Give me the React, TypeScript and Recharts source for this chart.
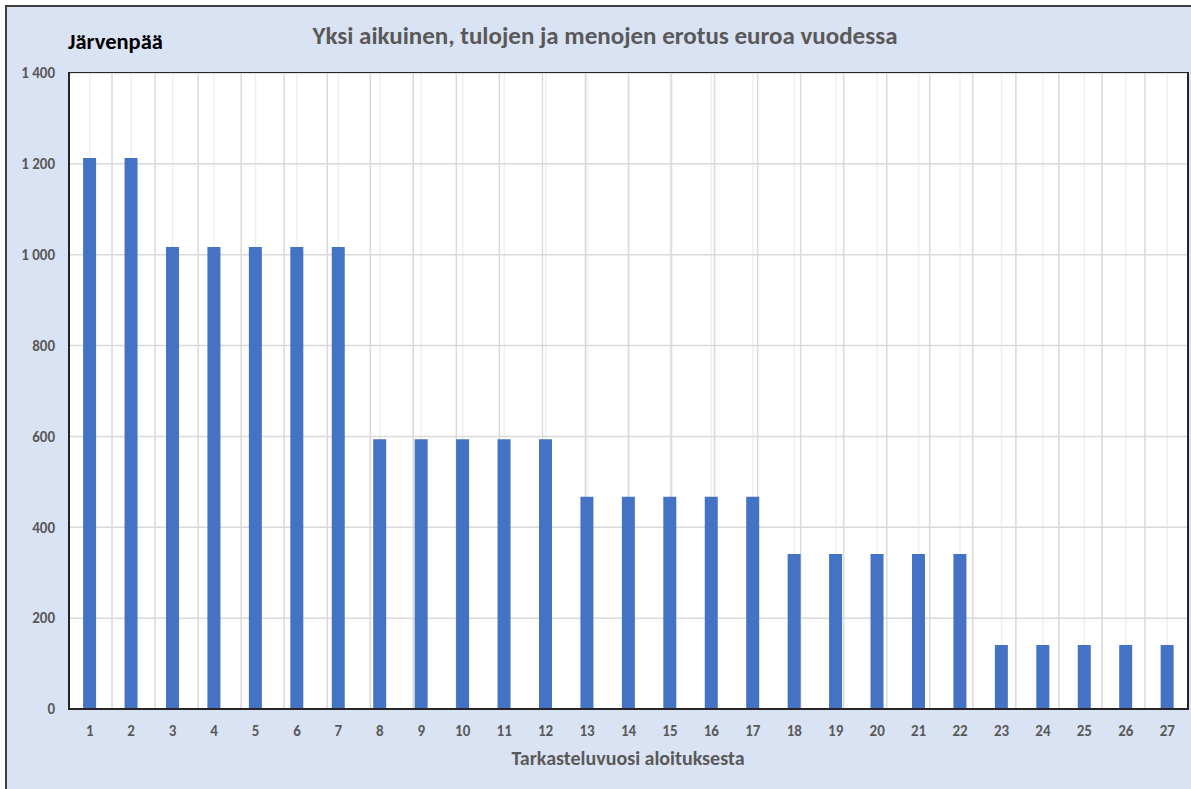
import React from "react";
import { BarChart, Bar, XAxis, YAxis, CartesianGrid } from "recharts";

const years = [
  1, 2, 3, 4, 5, 6, 7, 8, 9, 10, 11, 12, 13, 14, 15, 16, 17, 18, 19, 20, 21,
  22, 23, 24, 25, 26, 27,
];
const difference = [
  1213, 1213, 1017, 1017, 1017, 1017, 1017, 594, 594, 594, 594, 594, 467, 467,
  467, 467, 467, 341, 341, 341, 341, 341, 141, 141, 141, 141, 141,
];
const yTicks = [0, 200, 400, 600, 800, 1000, 1200, 1400];

const data = years.map((y, i) => ({ year: String(y), value: difference[i] }));
const boundaries = [0, ...years];

const FONT = "Carlito, Lato, 'Open Sans', sans-serif";
const GRAY = "#595959";

// plot area
const M = { top: 73, right: 3, bottom: 50, left: 9 };
const Y_W = 60;
const X_H = 30;

const formatThousands = (v: number) =>
  v >= 1000
    ? `${Math.floor(v / 1000)} ${String(v % 1000).padStart(3, "0")}`
    : String(v);

const tickStyle = { fill: GRAY, fontSize: 15, fontWeight: 700, fontFamily: FONT };

export default function App() {
  const plotLeft = M.left + Y_W;
  const plotRight = 1191 - M.right;
  const plotBottom = 789 - M.bottom - X_H;
  return (
    <div
      style={{
        position: "fixed",
        left: 0,
        top: 0,
        width: 1191,
        height: 789,
        background: "#ffffff",
        overflow: "hidden",
        fontFamily: FONT,
      }}
    >
      <div
        style={{
          position: "absolute",
          left: 5,
          top: 5,
          width: 1186,
          height: 784,
          background: "#dae3f3",
          borderLeft: "2px solid #404040",
          borderTop: "2px solid #404040",
          boxSizing: "border-box",
        }}
      />
      <div
        style={{
          position: "absolute",
          left: 68,
          top: 29,
          fontSize: 22.5,
          lineHeight: "26px",
          fontWeight: 700,
          color: "#000",
        }}
      >
        Järvenpää
      </div>
      <div
        style={{
          position: "absolute",
          left: 255,
          width: 700,
          top: 22,
          textAlign: "center",
          fontSize: 25,
          lineHeight: "28px",
          fontWeight: 700,
          color: GRAY,
        }}
      >
        Yksi aikuinen, tulojen ja menojen erotus euroa vuodessa
      </div>
      <div
        style={{
          position: "absolute",
          left: 428,
          width: 400,
          top: 746,
          textAlign: "center",
          fontSize: 20,
          lineHeight: "24px",
          fontWeight: 700,
          color: GRAY,
        }}
      >
        Tarkasteluvuosi aloituksesta
      </div>
      <div style={{ position: "absolute", left: 0, top: 0 }}>
        <BarChart
          width={1191}
          height={789}
          data={data}
          margin={M}
          barCategoryGap="34%"
        >
          <CartesianGrid
            horizontal={false}
            stroke="#efefef"
            strokeWidth={1.5}
            fill="#ffffff"
          />
          <CartesianGrid xAxisId="grid" stroke="#d9d9d9" strokeWidth={1.5} />
          <XAxis
            dataKey="year"
            height={X_H}
            tickLine={false}
            axisLine={false}
            tickMargin={10}
            tick={tickStyle}
            interval={0}
          />
          <XAxis
            xAxisId="grid"
            type="number"
            domain={[0, years.length]}
            ticks={boundaries}
            hide
          />
          <YAxis
            width={Y_W}
            domain={[0, 1400]}
            ticks={yTicks}
            tickFormatter={formatThousands}
            tickLine={false}
            axisLine={false}
            tickMargin={8}
            tick={tickStyle}
            interval={0}
          />
          <Bar dataKey="value" fill="#4472c4" isAnimationActive={false} />
        </BarChart>
      </div>
      <div
        style={{
          position: "absolute",
          left: plotLeft - 1,
          top: M.top - 1,
          width: plotRight - plotLeft + 2,
          height: plotBottom - M.top + 2,
          border: "2px solid #262626",
          borderTopWidth: 1.5,
          boxSizing: "border-box",
          pointerEvents: "none",
        }}
      />
    </div>
  );
}
